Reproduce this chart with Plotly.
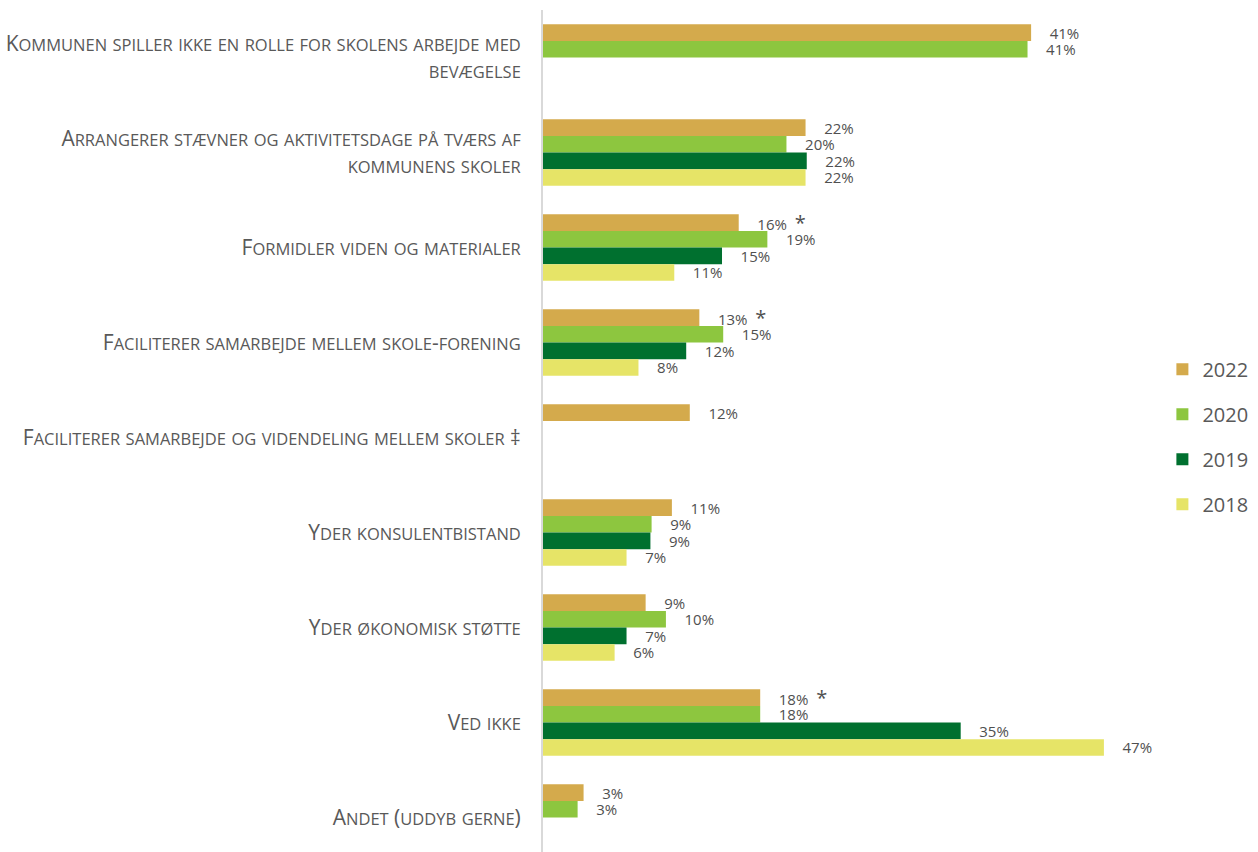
import plotly.graph_objects as go

categories = [
    "Kommunen spiller ikke en rolle for skolens arbejde med<br>bevægelse",
    "Arrangerer stævner og aktivitetsdage på tværs af<br>kommunens skoler",
    "Formidler viden og materialer",
    "Faciliterer samarbejde mellem skole-forening",
    "Faciliterer samarbejde og videndeling mellem skoler ‡",
    "Yder konsulentbistand",
    "Yder økonomisk støtte",
    "Ved ikke",
    "Andet (uddyb gerne)",
]

years = ["2022", "2020", "2019", "2018"]

v2022 = [40.9, 22.0, 16.4, 13.1, 12.3, 10.8, 8.6, 18.2, 3.4]
v2020 = [40.6, 20.4, 18.8, 15.1, None, 9.1, 10.3, 18.2, 2.9]
v2019 = [None, 22.1, 15.0, 12.0, None, 9.0, 7.0, 35.0, None]
v2018 = [None, 22.0, 11.0, 8.0, None, 7.0, 6.0, 47.0, None]

l2022 = ["41%", "22%", "16%", "13%", "12%", "11%", "9%", "18%", "3%"]
l2020 = ["41%", "20%", "19%", "15%", "", "9%", "10%", "18%", "3%"]
l2019 = ["", "22%", "15%", "12%", "", "9%", "7%", "35%", ""]
l2018 = ["", "22%", "11%", "8%", "", "7%", "6%", "47%", ""]

star2022 = [False, False, True, True, False, False, False, True, False]

colors = ["#D4AA4C", "#8DC63F", "#00702F", "#E6E467"]

series = [v2022, v2020, v2019, v2018]
labels = [l2022, l2020, l2019, l2018]

NB = "\u00a0"


def small_caps(label, small_size=16.5):
    """Render text in small caps: lowercase letters become smaller capitals."""
    parts = label.split("<br>")
    out_lines = []
    for part in parts:
        buf = ""
        run = ""
        for ch in part:
            if ch.islower():
                run += ch.upper()
            else:
                if run:
                    buf += f"<span style='font-size:{small_size}px'>{run}</span>"
                    run = ""
                buf += ch
        if run:
            buf += f"<span style='font-size:{small_size}px'>{run}</span>"
        out_lines.append(buf)
    return "<br>".join(out_lines)


def make_text(lbls, stars=None):
    out = []
    for i, t in enumerate(lbls):
        if not t:
            out.append("")
            continue
        s = NB * 4 + t
        if stars and stars[i]:
            s += NB * 2 + "<span style='font-size:20px'>*</span>"
        out.append(s)
    return out


fig = go.Figure()
for k, (yr, vals, lbls, col) in enumerate(zip(years, series, labels, colors)):
    fig.add_trace(go.Bar(
        name=yr,
        y=categories,
        x=vals,
        orientation="h",
        marker=dict(color=col, line=dict(width=0)),
        text=make_text(lbls, star2022 if yr == "2022" else None),
        textposition="outside",
        constraintext="none",
        cliponaxis=False,
        textfont=dict(family="Open Sans", size=15, color="#505050"),
        legendgroup=yr,
        hoverinfo="skip",
    ))

fig.update_layout(
    width=1258,
    height=852,
    margin=dict(l=543, r=98, t=10, b=0, pad=0, autoexpand=False),
    paper_bgcolor="white",
    plot_bgcolor="white",
    barmode="group",
    bargap=0.3,
    bargroupgap=0,
    font=dict(family="Open Sans", color="#595959"),
    legend=dict(
        xref="container", yref="container",
        x=0.924, y=0.5895, xanchor="left", yanchor="top",
        font=dict(family="Open Sans", size=20, color="#595959"),
        traceorder="grouped",
        tracegroupgap=16,
        itemwidth=30,
        bgcolor="rgba(0,0,0,0)",
    ),
    xaxis=dict(
        range=[0, 51.7],
        visible=False,
        showgrid=False,
        zeroline=False,
    ),
    yaxis=dict(
        type="category",
        categoryorder="array",
        categoryarray=categories,
        tickmode="array",
        tickvals=categories,
        ticktext=[small_caps(c) for c in categories],
        range=[8.363, -0.5],
        automargin=False,
        showline=True,
        linecolor="#d9d9d9",
        linewidth=2,
        showgrid=False,
        zeroline=False,
        ticks="",
        ticklabelstandoff=16,
        tickfont=dict(family="Open Sans", size=21, color="#595959"),
    ),
)

fig.write_html(
    "out.html",
    config={"displayModeBar": False},
    post_script="document.body.style.margin='0';document.body.style.overflow='hidden';",
)
